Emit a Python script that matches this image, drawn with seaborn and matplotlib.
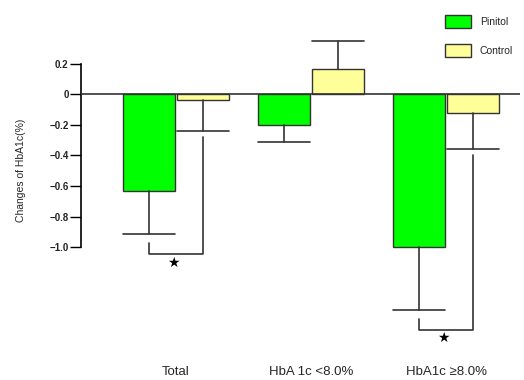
import pandas as pd
import matplotlib
matplotlib.use("Agg")
import matplotlib.pyplot as plt
import seaborn as sns
import numpy as np

# data
groups = ["Total", "HbA1c <8.0%", "HbA1c \u22658.0%"]
group_labels = ["Total", "HbA 1c <8.0%", "HbA1c \u22658.0%"]
pinitol_mean = [-0.635, -0.20, -1.00]
pinitol_err = [0.28, 0.11, 0.41]
control_mean = [-0.04, 0.165, -0.12]
control_err = [0.20, 0.185, 0.24]
significant = [True, False, True]
yticks = [0.2, 0, -0.2, -0.4, -0.6, -0.8, -1.0]
ytick_labels = ["0.2", "0", "\u22120.2", "\u22120.4", "\u22120.6", "\u22120.8", "\u22121.0"]

df = pd.DataFrame({
    "group": groups * 2,
    "treatment": ["Pinitol"] * 3 + ["Control"] * 3,
    "change": pinitol_mean + control_mean,
})

sns.set_style("white")
plt.rcParams["font.family"] = ["Liberation Sans", "DejaVu Sans"]

fig = plt.figure(figsize=(5.24, 3.8), dpi=100)
ax = fig.add_axes([81 / 524, 0.088, 439 / 524, 0.845])

edge = "#333333"
sns.barplot(data=df, x="group", y="change", hue="treatment",
            palette={"Pinitol": "#00ff00", "Control": "#ffff99"},
            saturation=1, width=0.8, gap=0.05, edgecolor=edge, linewidth=1.0,
            errorbar=None, ax=ax)

# one-sided error bars, pointing away from zero
half = 0.19
x = np.arange(len(groups))
for off, means, errs in [(-0.2, pinitol_mean, pinitol_err), (0.2, control_mean, control_err)]:
    for xi, m, e in zip(x + off, means, errs):
        end = m + np.sign(m) * e
        ax.plot([xi, xi], [m, end], color=edge, lw=1.2, zorder=1)
        ax.plot([xi - half, xi + half], [end, end], color=edge, lw=1.2, zorder=1)

# significance brackets
for xi, sig, pm, pe, cm, ce in zip(x, significant, pinitol_mean, pinitol_err,
                                    control_mean, control_err):
    if not sig:
        continue
    start = pm - pe - 0.06
    bottom = start - 0.07
    top = cm - ce - 0.04
    ax.plot([xi - 0.2, xi - 0.2, xi + 0.2, xi + 0.2], [start, bottom, bottom, top],
            color=edge, lw=1.2)
    ax.text(xi - 0.02, bottom - 0.055, "\u2605", ha="center", va="center",
            fontsize=10, family="DejaVu Sans", color="black")

ax.axhline(0, color=edge, lw=1.2, zorder=3)

ax.set_xlim(-0.704, 2.548)
ax.set_ylim(-1.65, 0.45)
ax.set_yticks(yticks)
ax.set_yticklabels(ytick_labels, fontsize=7, fontweight="bold", color="#222222")
ax.tick_params(axis="y", length=8, width=1, color="black", pad=1, left=True)
ax.set_xticks(x)
ax.set_xticklabels(group_labels, fontsize=9.5)
ax.tick_params(axis="x", length=0, pad=14)
ax.set_xlabel("")
ax.set_ylabel("Changes of HbA1c(%)", fontsize=7.5)
ax.yaxis.set_label_coords(-0.125, 0.55)

for s in ["top", "right", "bottom"]:
    ax.spines[s].set_visible(False)
ax.spines["left"].set_bounds(-1.0, 0.2)
ax.spines["left"].set_color("black")
ax.spines["left"].set_linewidth(1.2)

handles, labels = ax.get_legend_handles_labels()
ax.legend(handles, labels, loc="upper left", bbox_to_anchor=(436 / 524, 0.985),
          bbox_transform=fig.transFigure, frameon=False, fontsize=7.5,
          handlelength=2.5, handleheight=1.6, labelspacing=1.5, handletextpad=0.8)

fig.savefig("out.png", dpi=100)
